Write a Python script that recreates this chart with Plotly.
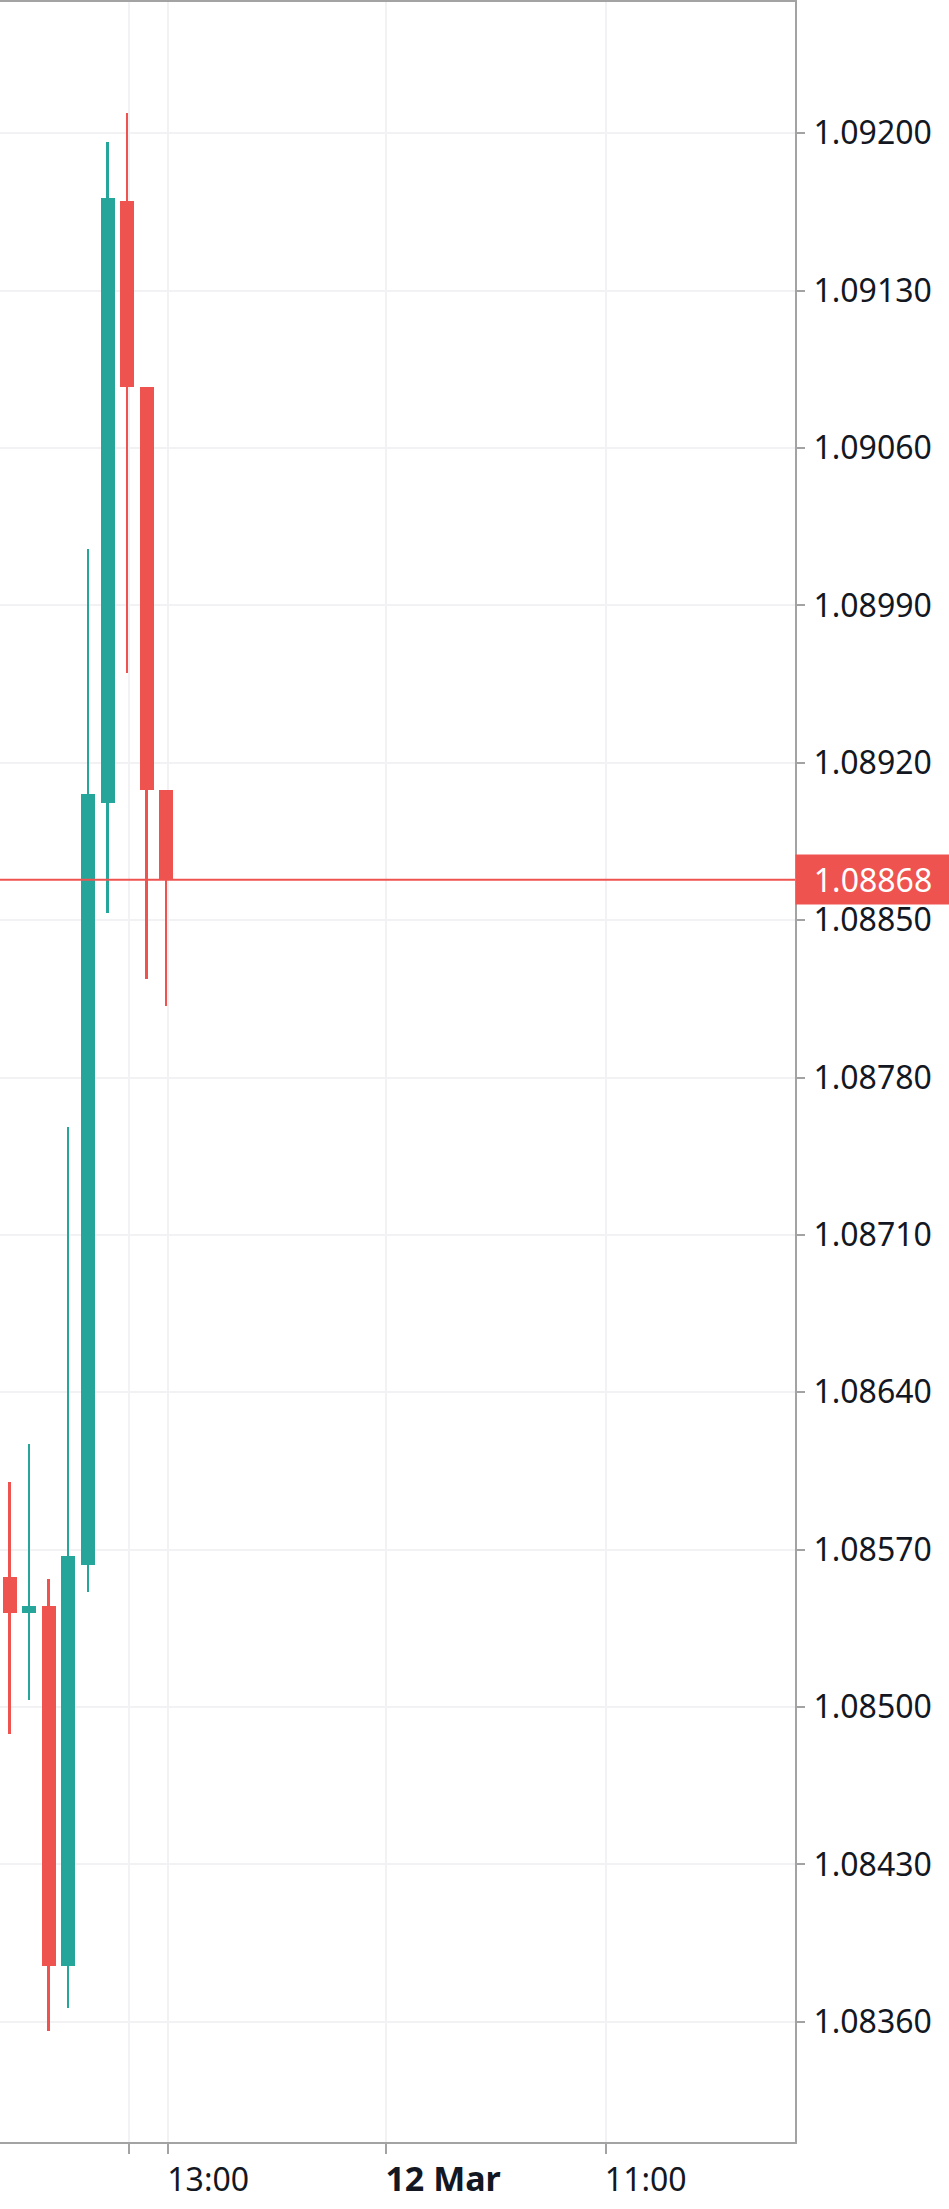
import plotly.graph_objects as go

# ---- data ----
candle_index = [0, 1, 2, 3, 4, 5, 6, 7, 8]
opens  = [1.08558, 1.08542, 1.08545, 1.08385, 1.08563, 1.08902, 1.09170, 1.09087, 1.08908]
highs  = [1.08600, 1.08617, 1.08557, 1.08758, 1.09015, 1.09196, 1.09209, 1.09087, 1.08908]
lows   = [1.08488, 1.08503, 1.08356, 1.08366, 1.08551, 1.08853, 1.08960, 1.08824, 1.08812]
closes = [1.08542, 1.08545, 1.08385, 1.08567, 1.08906, 1.09171, 1.09087, 1.08908, 1.08868]

last_price = 1.08868
last_price_label = "1.08868"

x_tick_positions = [6.08, 8.10, 19.24, 30.45]
x_tick_labels = ["", "13:00", "<b><span style='font-size:34px'>12 Mar</span></b>", "11:00"]

y_tick_values = [1.08360, 1.08430, 1.08500, 1.08570, 1.08640, 1.08710, 1.08780,
                 1.08850, 1.08920, 1.08990, 1.09060, 1.09130, 1.09200]

UP = "#26a69a"
DOWN = "#ef5350"
FONT = "Noto Sans"

colors = [UP if c >= o else DOWN for o, c in zip(opens, closes)]
body_base = [min(o, c) for o, c in zip(opens, closes)]
body_len = [abs(c - o) for o, c in zip(opens, closes)]
wick_len = [h - l for h, l in zip(highs, lows)]

fig = go.Figure()
fig.add_trace(go.Bar(x=candle_index, y=wick_len, base=lows, width=0.1,
                     marker=dict(color=colors, line=dict(width=0)),
                     hoverinfo="skip", showlegend=False))
fig.add_trace(go.Bar(x=candle_index, y=body_len, base=body_base, width=0.715,
                     marker=dict(color=colors, line=dict(width=0)),
                     hoverinfo="skip", showlegend=False))

fig.add_shape(type="line", xref="paper", x0=0, x1=1, yref="y",
              y0=last_price, y1=last_price, line=dict(color=DOWN, width=2), layer="above")

fig.add_annotation(xref="paper", x=1, xanchor="left", yref="y", y=last_price,
                   yanchor="middle", text=last_price_label, showarrow=False,
                   font=dict(family=FONT, size=32, color="white"),
                   bgcolor=DOWN, width=146, height=41, borderpad=4, align="center")

fig.update_layout(
    template="none",
    width=949, height=2209,
    margin=dict(l=0, r=154, t=2, b=67, pad=0, autoexpand=False),
    paper_bgcolor="white", plot_bgcolor="white",
    barmode="overlay", bargap=0,
    font=dict(family=FONT, size=32, color="#131722"),
    showlegend=False,
)
fig.update_xaxes(
    automargin=False,
    range=[-0.4954, 40.11],
    tickmode="array", tickvals=x_tick_positions, ticktext=x_tick_labels,
    ticklabelposition="outside right", ticklabelshift=-3, ticklabelstandoff=9,
    ticks="outside", ticklen=10, tickwidth=2, tickcolor="#a3a3a3",
    showline=True, linecolor="#a3a3a3", linewidth=2, mirror=True,
    showgrid=True, gridcolor="#f2f2f4", gridwidth=2,
    zeroline=False, fixedrange=True,
    tickfont=dict(family=FONT, size=32, color="#131722"),
)
fig.update_yaxes(
    automargin=False,
    range=[1.083065, 1.092584], side="right",
    tickmode="array", tickvals=y_tick_values, tickformat=".5f",
    ticklabelstandoff=2,
    ticks="outside", ticklen=8, tickwidth=2, tickcolor="#a3a3a3",
    showline=True, linecolor="#a3a3a3", linewidth=2, mirror=False,
    showgrid=True, gridcolor="#f2f2f4", gridwidth=2,
    zeroline=False, fixedrange=True,
    tickfont=dict(family=FONT, size=32, color="#131722"),
)

fig.write_html(
    "out.html",
    config={"displayModeBar": False},
    post_script="document.body.style.margin='0';document.body.style.overflow='hidden';",
)
